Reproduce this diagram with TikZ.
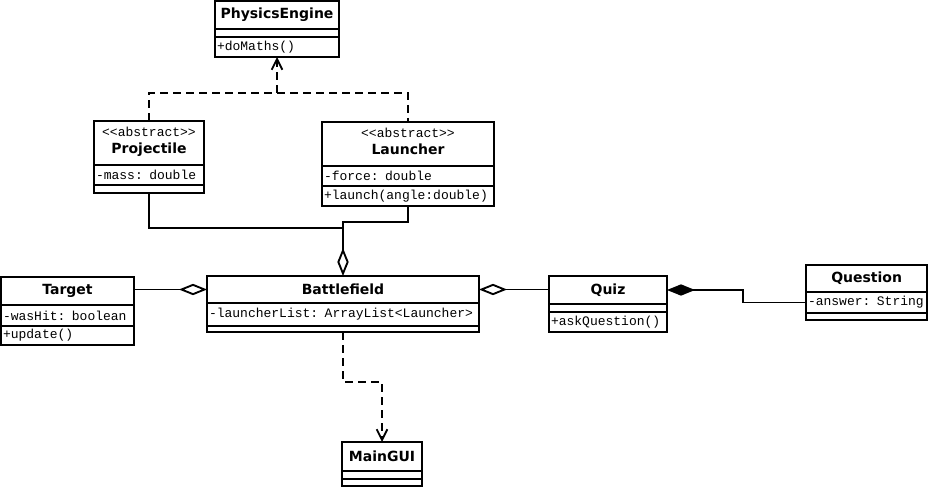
\documentclass[tikz,border=0pt]{standalone}
\usepackage{fontspec}
\newfontfamily\clssans{DejaVu Sans}
\newfontfamily\clsmono{Liberation Mono}
\usetikzlibrary{positioning,arrows.meta}

\tikzset{
  part/.style={draw, line width=1.4pt, outer sep=0pt, inner xsep=1.5pt, inner ysep=0pt, text width=#1},
  head/.style={part=#1, align=center, font=\clssans\bfseries\fontsize{10.5}{12.5}\selectfont},
  body/.style={part=#1, align=left, font=\clsmono\fontsize{9.75}{11}\selectfont},
  conn/.style={line width=1.4pt},
  dashline/.style={conn, dash pattern=on 6pt off 3.75pt},
  dep/.style={dashline, -{Straight Barb[length=8pt,width=8pt]}},
  agg/.style={conn, {Diamond[open,length=21pt,width=8.5pt]}-},
  comp/.style={conn, {Diamond[length=21pt,width=8.5pt]}-},
}
\newcommand{\stereo}{{\clsmono\mdseries\fontsize{9.75}{11}\selectfont <{}<abstract>{}>}}

\begin{document}
\begin{tikzpicture}[x=0.75pt,y=-0.75pt]
            \useasboundingbox (0,0) rectangle (934,488);

            % classes
            \node[head=90pt, minimum height=21pt, anchor=north west] (pe) at (215,1) {PhysicsEngine};
            \node[body=90pt, minimum height=6pt, below=0pt of pe] (pe-at) {};
            \node[body=90pt, minimum height=15pt, below=0pt of pe-at] (pe-op) {+doMaths()};

            \node[head=79.5pt, minimum height=33pt, anchor=north west] (proj) at (94,121) {\stereo\\[0.5pt]Projectile\rule[-4pt]{0pt}{0pt}};
            \node[body=79.5pt, minimum height=15pt, below=0pt of proj] (proj-at) {-mass: double};
            \node[body=79.5pt, minimum height=6pt, below=0pt of proj-at] (proj-op) {};

            \node[head=126pt, minimum height=33pt, anchor=north west] (launch) at (322,122) {\stereo\\[0.5pt]Launcher\rule[-4pt]{0pt}{0pt}};
            \node[body=126pt, minimum height=15pt, below=0pt of launch] (launch-at) {-force: double};
            \node[body=126pt, minimum height=15pt, below=0pt of launch-at] (launch-op) {+launch(angle:double)};

            \node[head=96.75pt, minimum height=21pt, anchor=north west] (target) at (1,277) {Target};
            \node[body=96.75pt, minimum height=15.75pt, below=0pt of target] (target-at) {-wasHit: boolean};
            \node[body=96.75pt, minimum height=14.25pt, below=0pt of target-at] (target-op) {+update()};

            \node[head=201pt, minimum height=20.25pt, anchor=north west] (bf) at (207,276) {Battlefield};
            \node[body=201pt, minimum height=17.25pt, below=0pt of bf] (bf-at) {-launcherList: ArrayList<Launcher>};
            \node[body=201pt, minimum height=4.5pt, below=0pt of bf-at] (bf-op) {};

            \node[head=85.5pt, minimum height=21pt, anchor=north west] (quiz) at (549,276) {Quiz};
            \node[body=85.5pt, minimum height=6pt, below=0pt of quiz] (quiz-at) {};
            \node[body=85.5pt, minimum height=15pt, below=0pt of quiz-at] (quiz-op) {+askQuestion()};

            \node[head=88pt, minimum height=20.25pt, anchor=north west] (quest) at (806,265) {Question};
            \node[body=88pt, minimum height=15.75pt, below=0pt of quest] (quest-at) {-answer: String};
            \node[body=88pt, minimum height=5.25pt, below=0pt of quest-at] (quest-op) {};

            \node[head=57pt, minimum height=21.75pt, anchor=north west] (gui) at (342,442) {MainGUI};
            \node[body=57pt, minimum height=6pt, below=0pt of gui] (gui-at) {};
            \node[body=57pt, minimum height=5.25pt, below=0pt of gui-at] (gui-op) {};

            % connectors
            \coordinate (up) at (277,93);
            \coordinate (meetL) at (343,222);
            \coordinate (meetP) at (343,228);

            \draw[dashline] (proj.north) |- (up) -| (launch.north);
            \draw[dep] (up) -- (pe-op.south);
            \draw[agg] (bf.north) -- (meetL) -| (launch-op.south);
            \draw[conn] (meetP) -| (proj-op.south);
            \draw[agg] (bf.west) -- (bf.west -| target.east);
            \draw[agg] (bf.east) -- (bf.east -| quiz.west);
            \draw[comp] (quiz.east) -- ++(76,0) |- (quest-at.west);
            \draw[dep] (bf-op.south) -- ++(0,50) -| (gui.north);
\end{tikzpicture}
\end{document}
